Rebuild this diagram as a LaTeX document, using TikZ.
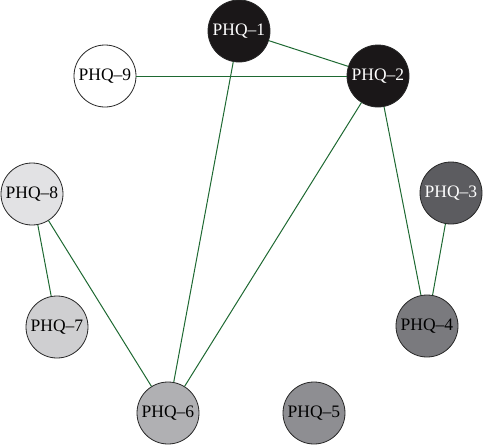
\documentclass[tikz,border=0pt]{standalone}
\usepackage{fontspec}
\setmainfont{Liberation Serif}
\begin{document}
\begin{tikzpicture}[x=1pt,y=-1pt,
  phq/.style={circle,draw=black!85,line width=0.8pt,minimum size=62pt,inner sep=0pt,font=\fontsize{17.5}{19}\selectfont},
  edge/.style={draw={rgb,255:red,30;green,105;blue,50},line width=1pt}]
\useasboundingbox (0,0) rectangle (483,445);
\definecolor{c1}{RGB}{26,23,24}
\definecolor{c3}{RGB}{92,92,96}
\definecolor{c4}{RGB}{122,122,126}
\definecolor{c5}{RGB}{142,142,146}
\definecolor{c6}{RGB}{176,176,179}
\definecolor{c7}{RGB}{207,207,209}
\definecolor{c8}{RGB}{226,226,228}
\node[phq,fill=c1,text=white] (p1) at (239,31) {PHQ–1};
\node[phq,fill=c1,text=white] (p2) at (378,76) {PHQ–2};
\node[phq,fill=white] (p9) at (105,76) {PHQ–9};
\node[phq,fill=c8] (p8) at (32,194) {PHQ–8};
\node[phq,fill=c3,text=white] (p3) at (451,193) {PHQ–3};
\node[phq,fill=c7] (p7) at (57,327) {PHQ–7};
\node[phq,fill=c4] (p4) at (427,326) {PHQ–4};
\node[phq,fill=c6] (p6) at (168,413) {PHQ–6};
\node[phq,fill=c5] (p5) at (314,413) {PHQ–5};
\draw[edge] (p1) -- (p2);
\draw[edge] (p9) -- (p2);
\draw[edge] (p1) -- (p6);
\draw[edge] (p2) -- (p6);
\draw[edge] (p2) -- (p4);
\draw[edge] (p3) -- (p4);
\draw[edge] (p8) -- (p7);
\draw[edge] (p8) -- (p6);
\end{tikzpicture}
\end{document}
